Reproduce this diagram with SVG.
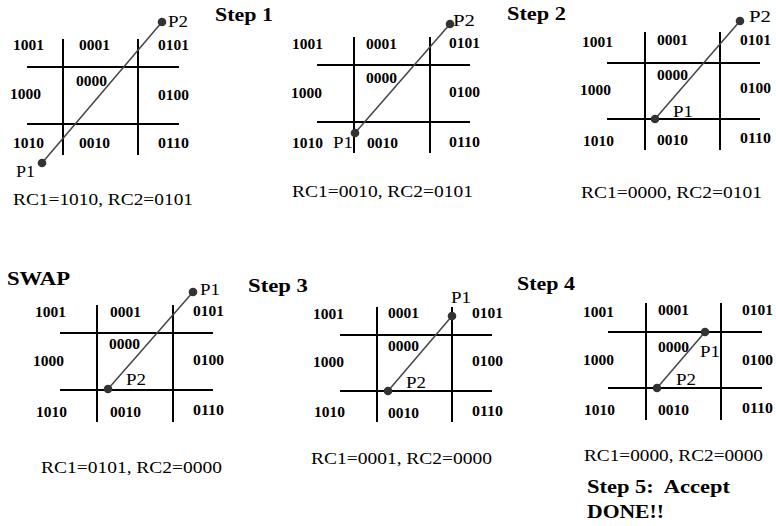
<svg xmlns="http://www.w3.org/2000/svg" width="776" height="526" viewBox="0 0 776 526">
<style>
.g{stroke:#000;stroke-width:2;fill:none}
.c{stroke:#444;stroke-width:1.5;fill:none}
.d{fill:#333}
text{font-family:'Liberation Serif','Times New Roman',Times,'DejaVu Serif',serif;fill:#000}
.l{font-size:15px;font-weight:bold}
.p{font-size:17px}
.r{font-size:17px}
.t{font-size:18px;font-weight:bold}
</style>
<rect width="776" height="526" fill="#fff"/>
<g id="panel1">
<path class="g" d="M27 67H179M27 124H179M63 39V155M138 39V155"/>
<text class="l" x="13" y="50" textLength="31" lengthAdjust="spacingAndGlyphs">1001</text>
<text class="l" x="79" y="50" textLength="31" lengthAdjust="spacingAndGlyphs">0001</text>
<text class="l" x="158" y="50" textLength="31" lengthAdjust="spacingAndGlyphs">0101</text>
<text class="l" x="76" y="86" textLength="31" lengthAdjust="spacingAndGlyphs">0000</text>
<text class="l" x="10" y="99" textLength="31" lengthAdjust="spacingAndGlyphs">1000</text>
<text class="l" x="158" y="100" textLength="31" lengthAdjust="spacingAndGlyphs">0100</text>
<text class="l" x="13" y="148" textLength="31" lengthAdjust="spacingAndGlyphs">1010</text>
<text class="l" x="79" y="148" textLength="31" lengthAdjust="spacingAndGlyphs">0010</text>
<text class="l" x="158" y="148" textLength="31" lengthAdjust="spacingAndGlyphs">0110</text>
<text class="p" x="168" y="27" textLength="20" lengthAdjust="spacingAndGlyphs">P2</text>
<text class="p" x="16" y="177" textLength="19" lengthAdjust="spacingAndGlyphs">P1</text>
<text class="r" x="13" y="205" textLength="180" lengthAdjust="spacingAndGlyphs">RC1=1010, RC2=0101</text>
<text class="t" x="215" y="21" textLength="58" lengthAdjust="spacingAndGlyphs">Step 1</text>
</g>
<g id="panel2">
<path class="g" d="M317 65H470M317 122H470M354 37V153M430 37V153"/>
<text class="l" x="292" y="49" textLength="31" lengthAdjust="spacingAndGlyphs">1001</text>
<text class="l" x="366" y="49" textLength="31" lengthAdjust="spacingAndGlyphs">0001</text>
<text class="l" x="449" y="48" textLength="31" lengthAdjust="spacingAndGlyphs">0101</text>
<text class="l" x="366" y="83" textLength="31" lengthAdjust="spacingAndGlyphs">0000</text>
<text class="l" x="291" y="98" textLength="31" lengthAdjust="spacingAndGlyphs">1000</text>
<text class="l" x="449" y="97" textLength="31" lengthAdjust="spacingAndGlyphs">0100</text>
<text class="l" x="292" y="148" textLength="31" lengthAdjust="spacingAndGlyphs">1010</text>
<text class="l" x="367" y="148" textLength="31" lengthAdjust="spacingAndGlyphs">0010</text>
<text class="l" x="449" y="147" textLength="31" lengthAdjust="spacingAndGlyphs">0110</text>
<text class="p" x="333" y="148" textLength="20" lengthAdjust="spacingAndGlyphs">P1</text>
<text class="p" x="453" y="26" textLength="22" lengthAdjust="spacingAndGlyphs">P2</text>
<text class="r" x="292" y="197" textLength="181" lengthAdjust="spacingAndGlyphs">RC1=0010, RC2=0101</text>
<text class="t" x="507" y="20" textLength="59" lengthAdjust="spacingAndGlyphs">Step 2</text>
</g>
<g id="panel3">
<path class="g" d="M607 63H760M607 119H760M645 32V150M720 32V150"/>
<text class="l" x="582" y="47" textLength="31" lengthAdjust="spacingAndGlyphs">1001</text>
<text class="l" x="657" y="45" textLength="31" lengthAdjust="spacingAndGlyphs">0001</text>
<text class="l" x="740" y="45" textLength="31" lengthAdjust="spacingAndGlyphs">0101</text>
<text class="l" x="657" y="80" textLength="31" lengthAdjust="spacingAndGlyphs">0000</text>
<text class="l" x="580" y="95" textLength="31" lengthAdjust="spacingAndGlyphs">1000</text>
<text class="l" x="740" y="93" textLength="31" lengthAdjust="spacingAndGlyphs">0100</text>
<text class="l" x="583" y="146" textLength="31" lengthAdjust="spacingAndGlyphs">1010</text>
<text class="l" x="657" y="145" textLength="31" lengthAdjust="spacingAndGlyphs">0010</text>
<text class="l" x="740" y="143" textLength="31" lengthAdjust="spacingAndGlyphs">0110</text>
<text class="p" x="673" y="117" textLength="20" lengthAdjust="spacingAndGlyphs">P1</text>
<text class="p" x="749" y="22" textLength="22" lengthAdjust="spacingAndGlyphs">P2</text>
<text class="r" x="581" y="198" textLength="181" lengthAdjust="spacingAndGlyphs">RC1=0000, RC2=0101</text>
</g>
<g id="panel4">
<text class="t" x="7" y="285" textLength="63" lengthAdjust="spacingAndGlyphs">SWAP</text>
<path class="g" d="M60 333H213M60 390H213M97 305V422M173 305V422"/>
<text class="l" x="35" y="317" textLength="31" lengthAdjust="spacingAndGlyphs">1001</text>
<text class="l" x="110" y="317" textLength="31" lengthAdjust="spacingAndGlyphs">0001</text>
<text class="l" x="193" y="316" textLength="31" lengthAdjust="spacingAndGlyphs">0101</text>
<text class="l" x="109" y="349" textLength="31" lengthAdjust="spacingAndGlyphs">0000</text>
<text class="l" x="33" y="366" textLength="31" lengthAdjust="spacingAndGlyphs">1000</text>
<text class="l" x="193" y="365" textLength="31" lengthAdjust="spacingAndGlyphs">0100</text>
<text class="l" x="36" y="417" textLength="31" lengthAdjust="spacingAndGlyphs">1010</text>
<text class="l" x="110" y="417" textLength="31" lengthAdjust="spacingAndGlyphs">0010</text>
<text class="l" x="193" y="415" textLength="31" lengthAdjust="spacingAndGlyphs">0110</text>
<text class="p" x="126" y="385" textLength="20" lengthAdjust="spacingAndGlyphs">P2</text>
<text class="p" x="200" y="295" textLength="20" lengthAdjust="spacingAndGlyphs">P1</text>
<text class="r" x="41" y="473" textLength="181" lengthAdjust="spacingAndGlyphs">RC1=0101, RC2=0000</text>
</g>
<g id="panel5">
<text class="t" x="248" y="292" textLength="60" lengthAdjust="spacingAndGlyphs">Step 3</text>
<path class="g" d="M340 335H492M340 391H492M377 307V422M452 307V422"/>
<text class="l" x="313" y="319" textLength="31" lengthAdjust="spacingAndGlyphs">1001</text>
<text class="l" x="388" y="318" textLength="31" lengthAdjust="spacingAndGlyphs">0001</text>
<text class="l" x="472" y="318" textLength="31" lengthAdjust="spacingAndGlyphs">0101</text>
<text class="l" x="388" y="351" textLength="31" lengthAdjust="spacingAndGlyphs">0000</text>
<text class="l" x="313" y="367" textLength="31" lengthAdjust="spacingAndGlyphs">1000</text>
<text class="l" x="472" y="366" textLength="31" lengthAdjust="spacingAndGlyphs">0100</text>
<text class="l" x="314" y="417" textLength="31" lengthAdjust="spacingAndGlyphs">1010</text>
<text class="l" x="388" y="418" textLength="31" lengthAdjust="spacingAndGlyphs">0010</text>
<text class="l" x="472" y="416" textLength="31" lengthAdjust="spacingAndGlyphs">0110</text>
<text class="p" x="451" y="303" textLength="20" lengthAdjust="spacingAndGlyphs">P1</text>
<text class="p" x="406" y="388" textLength="20" lengthAdjust="spacingAndGlyphs">P2</text>
<text class="r" x="311" y="464" textLength="181" lengthAdjust="spacingAndGlyphs">RC1=0001, RC2=0000</text>
</g>
<g id="panel6">
<text class="t" x="517" y="290" textLength="58" lengthAdjust="spacingAndGlyphs">Step 4</text>
<path class="g" d="M608 332H762M608 388H762M646 303V420M721 303V420"/>
<text class="l" x="583" y="317" textLength="31" lengthAdjust="spacingAndGlyphs">1001</text>
<text class="l" x="658" y="315" textLength="31" lengthAdjust="spacingAndGlyphs">0001</text>
<text class="l" x="742" y="315" textLength="31" lengthAdjust="spacingAndGlyphs">0101</text>
<text class="l" x="658" y="352" textLength="31" lengthAdjust="spacingAndGlyphs">0000</text>
<text class="l" x="583" y="365" textLength="31" lengthAdjust="spacingAndGlyphs">1000</text>
<text class="l" x="742" y="365" textLength="31" lengthAdjust="spacingAndGlyphs">0100</text>
<text class="l" x="584" y="415" textLength="31" lengthAdjust="spacingAndGlyphs">1010</text>
<text class="l" x="658" y="415" textLength="31" lengthAdjust="spacingAndGlyphs">0010</text>
<text class="l" x="742" y="413" textLength="31" lengthAdjust="spacingAndGlyphs">0110</text>
<text class="p" x="700" y="357" textLength="20" lengthAdjust="spacingAndGlyphs">P1</text>
<text class="p" x="676" y="385" textLength="20" lengthAdjust="spacingAndGlyphs">P2</text>
<text class="r" x="584" y="461" textLength="179" lengthAdjust="spacingAndGlyphs">RC1=0000, RC2=0000</text>
<text class="t" x="587" y="493" textLength="143" lengthAdjust="spacingAndGlyphs" xml:space="preserve">Step 5:  Accept</text>
<text class="t" x="587" y="518" textLength="77" lengthAdjust="spacingAndGlyphs">DONE!!</text>
</g>
<g id="connectors">
<line class="c" x1="42" y1="163" x2="162" y2="22"/>
<line class="c" x1="355" y1="133" x2="450" y2="24"/>
<line class="c" x1="655" y1="119" x2="740" y2="21"/>
<line class="c" x1="108" y1="389" x2="193" y2="292"/>
<line class="c" x1="388" y1="391" x2="452" y2="316"/>
<line class="c" x1="657" y1="388" x2="705" y2="332"/>
<circle class="d" cx="42" cy="163" r="4.3"/><circle class="d" cx="162" cy="22" r="4.3"/>
<circle class="d" cx="355" cy="133" r="4.3"/><circle class="d" cx="450" cy="24" r="4.3"/>
<circle class="d" cx="655" cy="119" r="4.3"/><circle class="d" cx="740" cy="21" r="4.3"/>
<circle class="d" cx="108" cy="389" r="4.3"/><circle class="d" cx="193" cy="292" r="4.3"/>
<circle class="d" cx="388" cy="391" r="4.3"/><circle class="d" cx="452" cy="316" r="4.3"/>
<circle class="d" cx="657" cy="388" r="4.3"/><circle class="d" cx="705" cy="332" r="4.3"/>
</g>
</svg>
